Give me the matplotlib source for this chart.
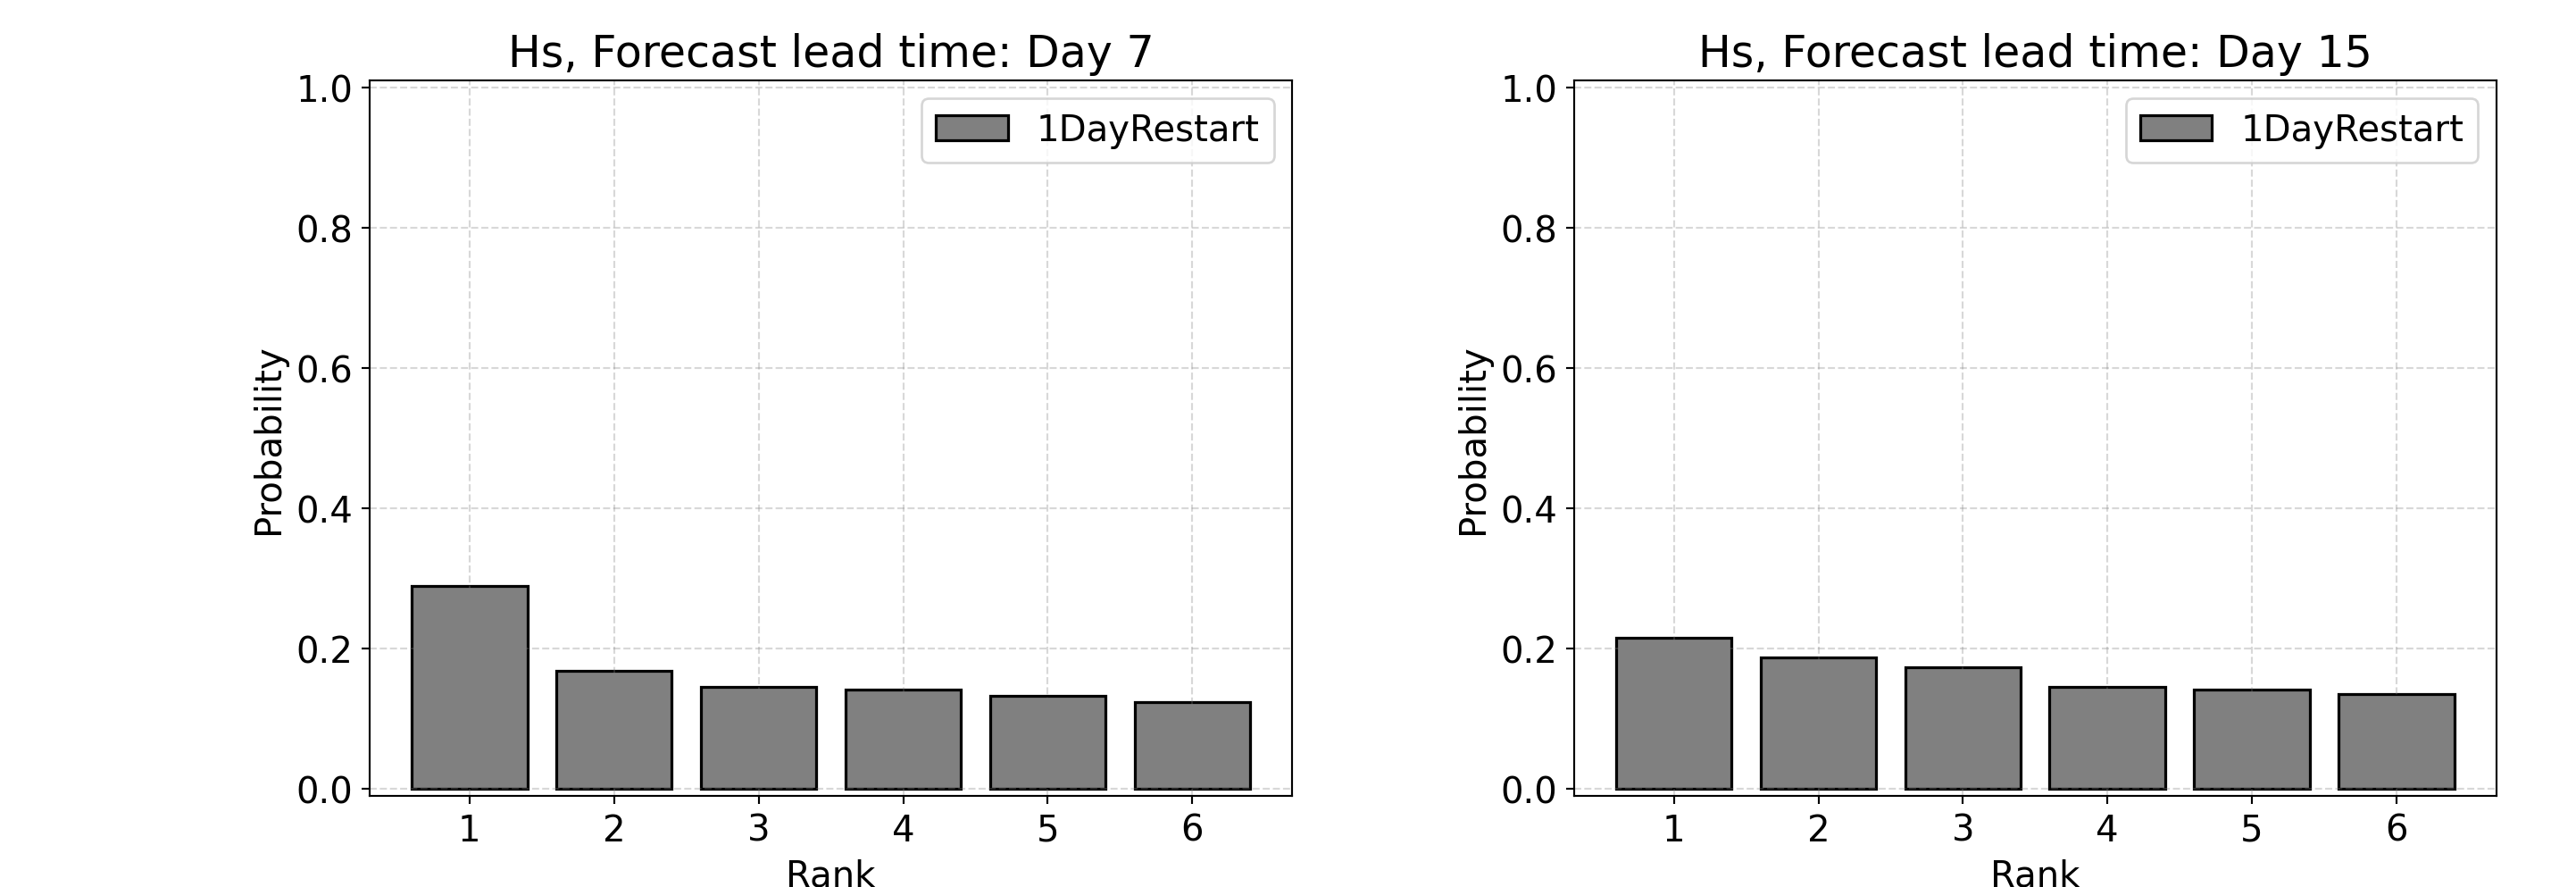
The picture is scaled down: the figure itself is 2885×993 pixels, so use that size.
import numpy as np
import matplotlib
matplotlib.use('Agg')
import matplotlib.pyplot as plt


# Rank histogram data
############################################

ranks = [1, 2, 3, 4, 5, 6]
lead_days = [7, 15]
prob_day7 = [0.289, 0.168, 0.145, 0.141, 0.133, 0.124]
prob_day15 = [0.216, 0.188, 0.174, 0.145, 0.142, 0.135]
series_label = '1DayRestart'

# Figure
########

dpi = 193
fig = plt.figure(figsize=(2885 / dpi, 994 / dpi), dpi=dpi)
ax_left = fig.add_axes([0.1435, 0.1026, 0.3581, 0.8059])
ax_right = fig.add_axes([0.6111, 0.1026, 0.3579, 0.8059])

for ax, day, probs in zip([ax_left, ax_right], lead_days, [prob_day7, prob_day15]):
    ax.bar(ranks, probs, width=0.8, color='gray', edgecolor='black',
           linewidth=1.2, label=series_label)
    ax.set_title('Hs, Forecast lead time: Day %d' % day, fontsize=18.3)
    ax.set_xlabel('Rank', fontsize=15)
    ax.set_ylabel('Probability', fontsize=15)
    ax.set_xticks(ranks)
    ax.set_ylim(-0.01, 1.01)
    ax.tick_params(labelsize=15)
    ax.grid(True, linestyle='--', color='gray', alpha=0.3)
    ax.legend(loc='upper right', fontsize=15)

fig.savefig('out.png', dpi=dpi)
